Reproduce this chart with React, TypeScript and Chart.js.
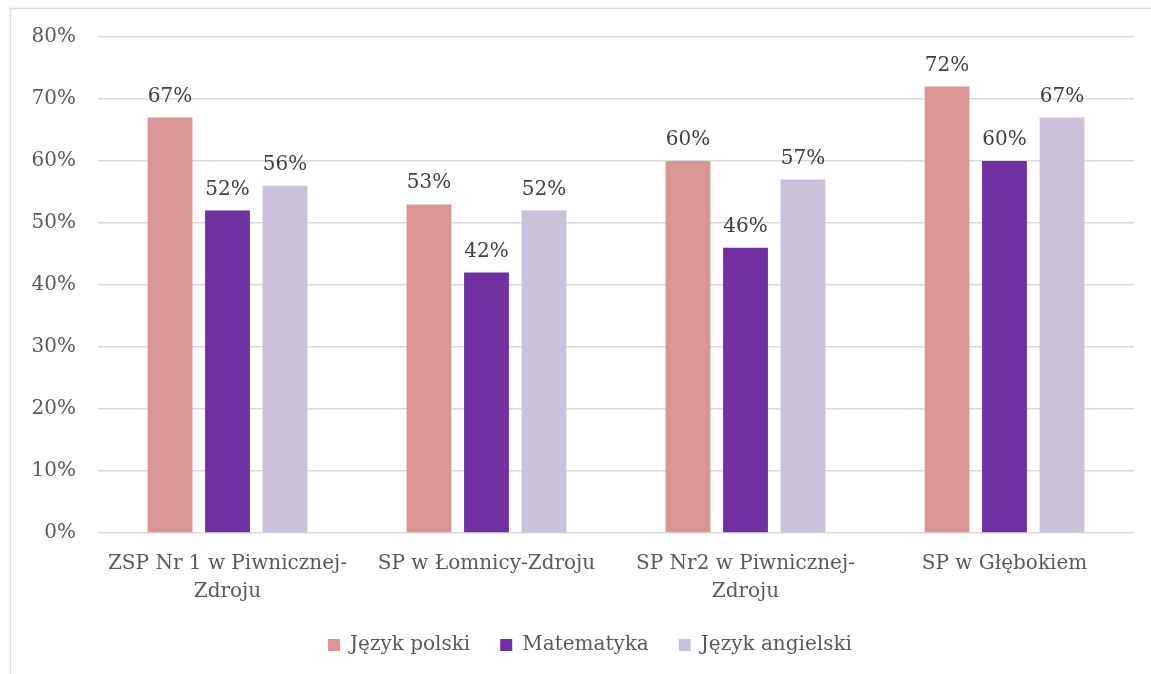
import React, { useEffect, useRef } from "react";
import { Chart, registerables } from "chart.js";

Chart.register(...registerables);

const categories: (string | string[])[] = [
  ["ZSP Nr 1 w Piwnicznej-", "Zdroju"],
  "SP w Łomnicy-Zdroju",
  ["SP Nr2 w Piwnicznej-", "Zdroju"],
  "SP w Głębokiem",
];
const polski = [67, 53, 60, 72];
const matematyka = [52, 42, 46, 60];
const angielski = [56, 52, 57, 67];
const seriesNames = ["Język polski", "Matematyka", "Język angielski"];
const seriesColors = ["#d99694", "#7030a0", "#ccc1da"];

const FONT = "'DejaVu Serif', serif";
const FS = 20;

const borderPlugin = {
  id: "outerBorder",
  beforeDraw(chart: any) {
    const ctx = chart.ctx;
    ctx.save();
    ctx.fillStyle = "#ffffff";
    ctx.fillRect(0, 0, chart.width, chart.height);
    ctx.strokeStyle = "#d9d9d9";
    ctx.lineWidth = 1.5;
    ctx.strokeRect(10.5, 8.5, chart.width + 20, chart.height + 20);
    ctx.restore();
  },
};

// the legend in the reference is centred on the (wider) chart frame
const legendShift = {
  id: "legendShift",
  afterLayout(chart: any) {
    if (chart.legend) {
      chart.legend.left += 23;
      chart.legend.right += 23;
    }
  },
};

const labelPlugin = {
  id: "valueLabels",
  afterDatasetsDraw(chart: any) {
    const ctx = chart.ctx;
    ctx.save();
    ctx.font = `${FS}px ${FONT}`;
    ctx.fillStyle = "#404040";
    ctx.textAlign = "center";
    ctx.textBaseline = "alphabetic";
    chart.data.datasets.forEach((ds: any, i: number) => {
      const meta = chart.getDatasetMeta(i);
      meta.data.forEach((bar: any, j: number) => {
        ctx.fillText(ds.data[j] + "%", bar.x, bar.y - 16);
      });
    });
    ctx.restore();
  },
};

export default function App() {
  const ref = useRef<HTMLCanvasElement>(null);
  useEffect(() => {
    if (!ref.current) return;
    const chart = new Chart(ref.current, {
      type: "bar",
      data: {
        labels: categories,
        datasets: [polski, matematyka, angielski].map((d, i) => ({
          label: seriesNames[i],
          data: d,
          backgroundColor: seriesColors[i],
          borderWidth: 0,
          barPercentage: 0.78,
          categoryPercentage: 0.666,
        })),
      },
      options: {
        animation: false,
        responsive: true,
        maintainAspectRatio: false,
        layout: { padding: { left: 0, right: 17, top: 37, bottom: 9 } },
        plugins: {
          tooltip: { enabled: false },
          legend: {
            position: "bottom",
            labels: {
              boxWidth: 12,
              boxHeight: 12,
              padding: 30,
              color: "#595959",
              font: { family: FONT, size: FS },
            },
          },
        },
        scales: {
          x: {
            afterFit(scale: any) {
              scale.height = 72;
            },
            grid: { display: false },
            border: { display: false },
            ticks: {
              color: "#595959",
              font: { family: FONT, size: FS, lineHeight: 1.4 },
              maxRotation: 0,
              autoSkip: false,
              padding: 9,
            },
          },
          y: {
            min: 0,
            max: 80,
            afterFit(scale: any) {
              scale.width = 98;
            },
            grid: { color: "#d9d9d9", lineWidth: 1.5, drawTicks: false },
            border: { display: false },
            ticks: {
              stepSize: 10,
              padding: 22,
              color: "#595959",
              font: { family: FONT, size: FS },
              callback: (v: any) => v + "%",
            },
          },
        },
      },
      plugins: [borderPlugin, legendShift, labelPlugin],
    });
    return () => chart.destroy();
  }, []);
  return (
    <div style={{ position: "absolute", left: 0, top: 0, width: 1151, height: 674 }}>
      <canvas ref={ref} />
    </div>
  );
}
